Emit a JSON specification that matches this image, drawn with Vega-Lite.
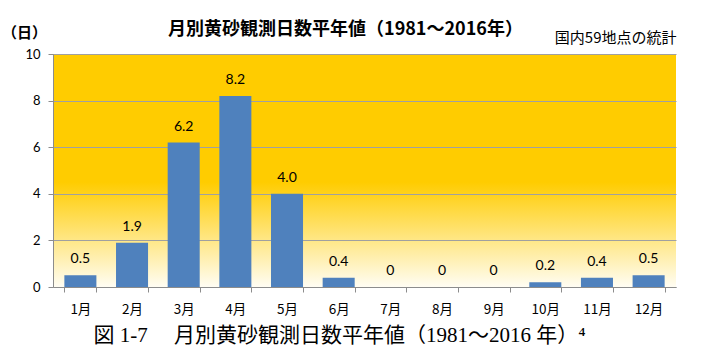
{
  "$schema": "https://vega.github.io/schema/vega-lite/v6.json",
  "width": 623,
  "height": 233,
  "autosize": "none",
  "padding": {"left": 53, "top": 54, "right": 41, "bottom": 70},
  "background": "white",
  "title": {
    "text": "月別黄砂観測日数平年値（1981～2016年）",
    "font": "Noto Sans CJK JP",
    "fontSize": 18,
    "fontWeight": "bold",
    "color": "black",
    "anchor": "middle",
    "dx": -19,
    "offset": -14
  },
  "config": {
    "view": {
      "stroke": null,
      "fill": {
        "gradient": "linear",
        "x1": 0, "y1": 0, "x2": 0, "y2": 1,
        "stops": [
          {"offset": 0, "color": "#FFCC00"},
          {"offset": 0.55, "color": "#FFCC00"},
          {"offset": 1, "color": "#FFFDF3"}
        ]
      }
    },
    "axis": {
      "domainColor": "#8C8C8C",
      "tickColor": "#8C8C8C",
      "gridColor": "#A0A0A0",
      "labelColor": "black",
      "titleColor": "black"
    }
  },
  "data": {
    "values": [
      {"month": "1月", "days": 0.5, "label": "0.5"},
      {"month": "2月", "days": 1.9, "label": "1.9"},
      {"month": "3月", "days": 6.2, "label": "6.2"},
      {"month": "4月", "days": 8.2, "label": "8.2"},
      {"month": "5月", "days": 4.0, "label": "4.0"},
      {"month": "6月", "days": 0.4, "label": "0.4"},
      {"month": "7月", "days": 0, "label": "0"},
      {"month": "8月", "days": 0, "label": "0"},
      {"month": "9月", "days": 0, "label": "0"},
      {"month": "10月", "days": 0.2, "label": "0.2"},
      {"month": "11月", "days": 0.4, "label": "0.4"},
      {"month": "12月", "days": 0.5, "label": "0.5"}
    ]
  },
  "resolve": {"axis": {"x": "independent"}},
  "layer": [
    {
      "mark": {"type": "bar", "color": "#4F81BD"},
      "encoding": {
        "x": {
          "field": "month",
          "type": "nominal",
          "sort": null,
          "scale": {"paddingInner": 0.38, "paddingOuter": 0.22},
          "axis": {
            "orient": "bottom",
            "labelAngle": 0,
            "labelFont": "Noto Sans CJK JP",
            "labelFontSize": 13.5,
            "labelPadding": 10,
            "tickSize": 5,
            "tickBand": "extent",
            "title": "図 1-7　 月別黄砂観測日数平年値（1981～2016 年）⁴",
            "titleFont": "Liberation Serif, Noto Sans CJK JP",
            "titleFontSize": 21,
            "titleFontWeight": "normal",
            "titleAlign": "left",
            "titleBaseline": "middle",
            "titleX": 40,
            "titleY": 48
          }
        },
        "y": {
          "field": "days",
          "type": "quantitative",
          "scale": {"domain": [0, 10]},
          "axis": {
            "values": [0, 2, 4, 6, 8, 10],
            "labelFont": "Lato",
            "labelFontSize": 13,
            "labelPadding": 8,
            "tickSize": 5,
            "grid": true,
            "title": "（日）",
            "titleFont": "Noto Sans CJK JP",
            "titleFontSize": 15,
            "titleFontWeight": "bold",
            "titleAngle": 0,
            "titleAlign": "center",
            "titleBaseline": "middle",
            "titleX": -29,
            "titleY": -22
          }
        }
      }
    },
    {
      "mark": {"type": "text", "baseline": "bottom", "dy": -9, "font": "Lato", "fontSize": 14, "color": "black"},
      "encoding": {
        "x": {
          "field": "month",
          "type": "nominal",
          "sort": null,
          "axis": {
            "orient": "top",
            "labels": false,
            "ticks": false,
            "domain": false,
            "grid": false,
            "title": "国内59地点の統計",
            "titleFont": "Noto Sans CJK JP",
            "titleFontSize": 15,
            "titleFontWeight": "normal",
            "titleAnchor": "end",
            "titlePadding": 9
          }
        },
        "y": {"field": "days", "type": "quantitative"},
        "text": {"field": "label"}
      }
    }
  ]
}
